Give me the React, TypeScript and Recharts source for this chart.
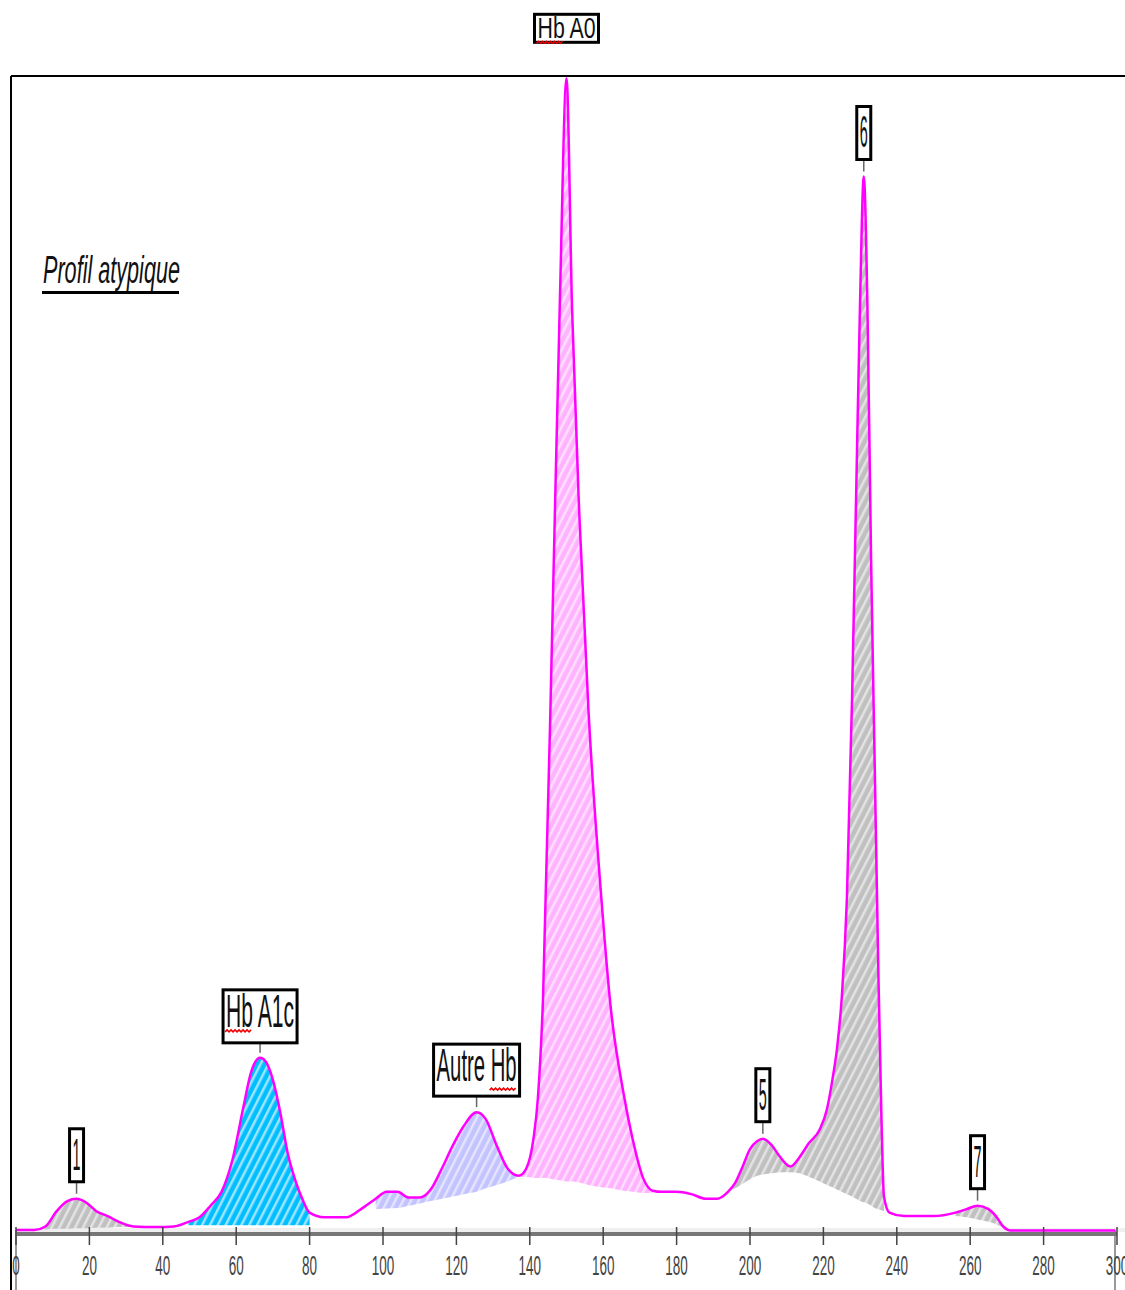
import React from "react";
import {
  ComposedChart,
  Area,
  Line,
  XAxis,
  YAxis,
  ReferenceDot,
} from "recharts";

// chromatogram trace: [retention, signal]
const trace: [number, number][] = [
  [0, 0.1], [5, 0.1], [8, 0.4], [11, 1.7], [14, 2.6], [16.5, 2.8], [19, 2.5], [22, 1.7],
  [25, 1.3], [28, 0.8], [32, 0.4], [38, 0.35], [43, 0.4], [47, 0.8], [50, 1.2], [53, 2.2],
  [56, 3.4], [59, 6.2], [62, 10.8], [64, 13.7], [66.5, 15.0], [68, 14.7], [70, 13.1], [72, 10.3],
  [74, 6.8], [76, 4.5], [78, 2.8], [80, 1.6], [84, 1.2], [90, 1.2], [94, 1.9], [98, 2.8],
  [101, 3.4], [104, 3.4], [107, 2.9], [110, 2.9], [113, 3.6], [116, 5.4], [119, 7.4], [122, 9.1],
  [125.5, 10.3], [128, 9.7], [131, 7.4], [134, 5.4], [137, 4.8], [139, 5.4], [141, 8.0], [142.2, 11.5],
  [143.6, 20.1], [146.3, 54.7], [148.2, 80.6], [150, 99.8], [151.5, 80], [153.5, 62], [156, 45], [159.5, 28.8],
  [162, 19.5], [165.5, 12], [168, 8], [171, 4.5], [173.5, 3.5], [176, 3.4], [180, 3.4], [184, 3.2],
  [188, 2.8], [191, 2.8], [194, 3.4], [196, 4.2], [198, 5.6], [200, 7.1], [202, 7.8], [203.5, 8.0],
  [206, 7.4], [208, 6.5], [211, 5.6], [213.5, 6.4], [216, 7.6], [219, 8.8], [221, 10.6], [222.5, 13.2],
  [223.7, 15.8], [225, 20.2], [226.4, 28.8], [227.8, 46], [228.9, 63.4], [230, 80.6], [231, 91.3], [232, 80],
  [233, 58], [234, 40], [235, 22], [235.8, 10], [236.5, 3], [238, 1.6], [242, 1.3], [250, 1.3],
  [256, 1.6], [259, 1.9], [262, 2.2], [265, 1.9], [267, 1.3], [269, 0.4], [271, 0.05], [280, 0.05],
  [290, 0.05], [299.5, 0.05],
];

// lower edge of each shaded peak: [retention, floor]
const p1Floor: [number, number][] = [
  [5, 0.1], [8, 0.15], [11, 0.2], [14, 0.2], [16.5, 0.25], [19, 0.25], [22, 0.3], [25, 0.3], [28, 0.35], [32, 0.35],
];
const a1cFloor: [number, number][] = [
  [47, 0.5], [50, 0.5], [53, 0.5], [56, 0.5], [59, 0.5], [62, 0.5], [64, 0.5], [66.5, 0.5],
  [68, 0.5], [70, 0.5], [72, 0.5], [74, 0.5], [76, 0.5], [78, 0.5], [80, 0.5],
];
const autreFloor: [number, number][] = [
  [98, 1.9], [101, 1.95], [104, 2.0], [107, 2.2], [110, 2.4], [113, 2.6], [116, 2.8], [119, 3.0],
  [122, 3.2], [125.5, 3.4], [128, 3.7], [131, 4.0], [134, 4.3], [137, 4.7],
];
const a0Floor: [number, number][] = [
  [137, 4.7], [139, 4.7], [141, 4.6], [142.2, 4.6], [143.6, 4.6], [146.3, 4.5], [148.2, 4.4], [150, 4.3],
  [151.5, 4.3], [153.5, 4.2], [156, 4.0], [159.5, 3.8], [162, 3.7], [165.5, 3.5], [168, 3.4], [171, 3.3], [173.5, 3.3],
];
const p56Floor: [number, number][] = [
  [194, 3.4], [196, 3.7], [198, 4.1], [200, 4.5], [202, 4.8], [203.5, 4.9], [206, 5.0], [208, 5.1],
  [211, 5.1], [213.5, 5.0], [216, 4.7], [219, 4.3], [221, 4.0], [222.5, 3.8], [223.7, 3.6], [225, 3.4],
  [226.4, 3.2], [227.8, 3.0], [228.9, 2.8], [230, 2.6], [231, 2.5], [232, 2.4], [233, 2.2], [234, 2.0],
  [235, 1.9], [235.8, 1.8], [236.5, 1.7],
];
const p7Floor: [number, number][] = [
  [256, 1.3], [259, 1.2], [262, 1.0], [265, 0.8], [267, 0.6], [269, 0.3],
];

const ticks = [0, 20, 40, 60, 80, 100, 120, 140, 160, 180, 200, 220, 240, 260, 280, 300];

// peak tags
const tagText = ["1", "Hb A1c", "Autre Hb", "Hb A0", "5", "6", "7"];
const tagAt = [16.5, 66.5, 125.5, 150, 203.5, 231, 262];

const regions = [
  { key: "p1", floor: p1Floor, fill: "url(#hGray)" },
  { key: "a1c", floor: a1cFloor, fill: "url(#hCyan)" },
  { key: "autre", floor: autreFloor, fill: "url(#hLav)" },
  { key: "a0", floor: a0Floor, fill: "url(#hPink)" },
  { key: "p56", floor: p56Floor, fill: "url(#hGray)" },
  { key: "p7", floor: p7Floor, fill: "url(#hGray)" },
];

const rows = trace.map(([x, y]) => {
  const r: Record<string, any> = { x, y };
  regions.forEach((g) => {
    const f = g.floor.find((p) => p[0] === x);
    r[g.key] = f ? [f[1], y] : null;
  });
  return r;
});

const FONT = "'Liberation Sans', Arial, sans-serif";

// box geometry per tag (w, h, gap above peak, font size, text width, baseline, squiggle side)
const tagStyle: Record<string, any> = {
  "Hb A1c": { w: 74, h: 53, gap: 15, fs: 47, tw: 68, base: 37, sq: "left" },
  "Autre Hb": { w: 86, h: 52, gap: 16, fs: 47, tw: 80, base: 37, sq: "right" },
  "Hb A0": { w: 64, h: 28, gap: 36, fs: 29, tw: 58, base: 24, sq: "left", noLink: true },
  digit: { w: 14, h: 53, gap: 17, fs: 44, tw: 8, base: 41 },
};

function zigzag(x0: number, x1: number, y: number) {
  let d = `M${x0},${y}`;
  let up = true;
  for (let x = x0 + 2; x <= x1; x += 2) {
    d += ` L${x},${up ? y - 2 : y}`;
    up = !up;
  }
  return d;
}

function Tag(props: any) {
  const { cx, cy, label } = props;
  const s = tagStyle[label] || tagStyle.digit;
  const left = cx - s.w / 2;
  const bottom = cy - s.gap;
  const top = bottom - s.h;
  let sq = null;
  if (s.sq === "left") sq = zigzag(left + 2, left + 28, top + s.base + 5);
  if (s.sq === "right") sq = zigzag(left + s.w - 30, left + s.w - 3, top + s.base + 9);
  return (
    <g>
      {!s.noLink && (
        <line x1={cx} x2={cx} y1={bottom} y2={cy - 5} stroke="#666" strokeWidth={1.5} />
      )}
      <rect x={left} y={top} width={s.w} height={s.h} fill="#fff" stroke="#000" strokeWidth={3} />
      <text
        x={cx}
        y={top + s.base}
        textAnchor="middle"
        fontFamily={FONT}
        fontSize={s.fs}
        fill="#111"
        textLength={s.tw}
        lengthAdjust="spacingAndGlyphs"
      >
        {label}
      </text>
      {sq && <path d={sq} fill="none" stroke="#e00" strokeWidth={1.5} />}
    </g>
  );
}

function Tick(props: any) {
  const { x, y, payload } = props;
  const s = String(payload.value);
  return (
    <g>
      <line x1={x} x2={x} y1={y - 7} y2={y + 11} stroke="#444" strokeWidth={1.5} />
      <text
        x={x}
        y={y + 41}
        textAnchor="middle"
        fontFamily={FONT}
        fontSize={28}
        fill="#444"
        textLength={s.length * 7.5}
        lengthAdjust="spacingAndGlyphs"
      >
        {s}
      </text>
    </g>
  );
}

function Hatch({ id, bg, fg }: { id: string; bg: string; fg: string }) {
  return (
    <pattern id={id} width={7} height={7} patternUnits="userSpaceOnUse" patternTransform="rotate(27)">
      <rect width={7} height={7} fill={bg} />
      <rect width={2.5} height={7} fill={fg} />
    </pattern>
  );
}

export default function App() {
  return (
    <div style={{ position: "absolute", left: 0, top: 0, width: 1125, height: 1290, background: "#fff" }}>
      <svg width={1125} height={1290} style={{ position: "absolute", left: 0, top: 0 }}>
        <defs>
          <Hatch id="hGray" bg="#c0c0c0" fg="#e3e3e3" />
          <Hatch id="hCyan" bg="#00bfff" fg="#a0e3ff" />
          <Hatch id="hLav" bg="#c3c3ff" fg="#e4e4ff" />
          <Hatch id="hPink" bg="#ffb3ff" fg="#ffdfff" />
        </defs>
        <line x1={11} x2={1125} y1={76} y2={76} stroke="#000" strokeWidth={2} />
        <line x1={11} x2={11} y1={76} y2={1290} stroke="#000" strokeWidth={2} />
        <rect x={16} y={1228} width={1109} height={4} fill="#efefef" />
        <line x1={16} x2={16} y1={1230} y2={1290} stroke="#777" strokeWidth={1.5} />
        <line x1={1115} x2={1115} y1={1230} y2={1290} stroke="#777" strokeWidth={1.5} />
        <text
          x={43}
          y={283}
          fontFamily={FONT}
          fontStyle="italic"
          fontSize={38}
          fill="#111"
          textLength={137}
          lengthAdjust="spacingAndGlyphs"
        >
          Profil atypique
        </text>
        <rect x={42} y={291} width={137} height={3} fill="#000" />
      </svg>
      <div style={{ position: "absolute", left: 0, top: 0 }}>
        <ComposedChart
          width={1125}
          height={1290}
          data={rows}
          margin={{ top: 76, right: 8, left: 16, bottom: 0 }}
        >
          <XAxis
            dataKey="x"
            type="number"
            domain={[0, 300]}
            ticks={ticks}
            height={56}
            tickSize={0}
            tickMargin={0}
            tickLine={false}
            axisLine={{ stroke: "#777", strokeWidth: 4 }}
            tick={<Tick />}
            interval={0}
            allowDataOverflow
          />
          <YAxis hide type="number" domain={[-0.25, 100]} allowDataOverflow />
          {regions.map((g) => (
            <Area
              key={g.key}
              dataKey={g.key}
              type="monotone"
              stroke="none"
              fill={g.fill}
              fillOpacity={1}
              dot={false}
              activeDot={false}
              connectNulls={false}
              isAnimationActive={false}
            />
          ))}
          <Line
            dataKey="y"
            type="monotone"
            stroke="#ff00ff"
            strokeWidth={2.5}
            dot={false}
            activeDot={false}
            isAnimationActive={false}
          />
          {tagText.map((t, i) => {
            const pk = trace.find((p) => p[0] === tagAt[i]);
            return (
              <ReferenceDot
                key={t}
                x={tagAt[i]}
                y={pk ? pk[1] : 0}
                r={0}
                shape={(p: any) => <Tag {...p} label={t} />}
              />
            );
          })}
        </ComposedChart>
      </div>
    </div>
  );
}
